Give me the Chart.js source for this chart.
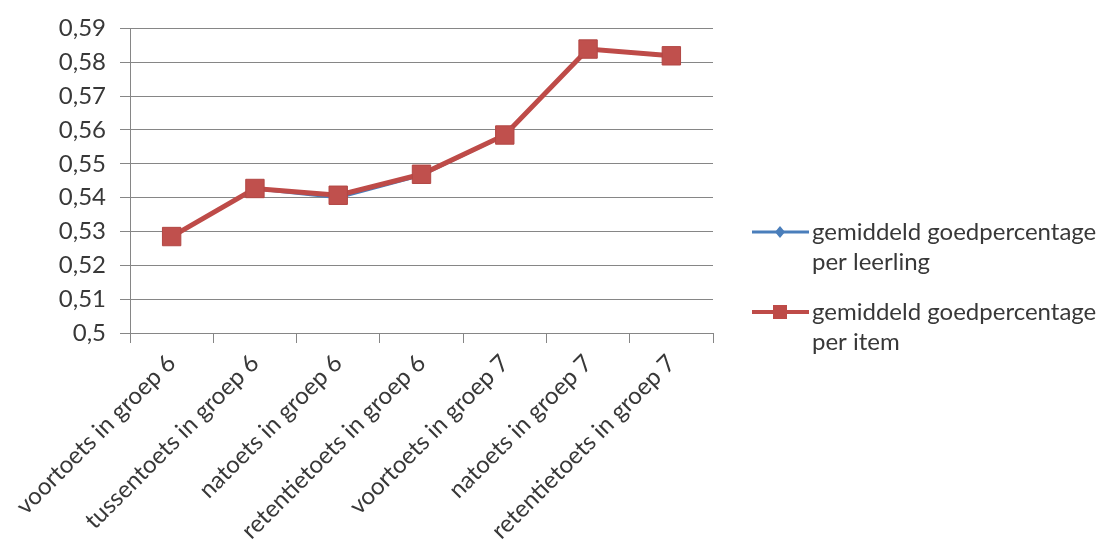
<!DOCTYPE html>
<html><head><meta charset="utf-8">
<script src="https://cdn.jsdelivr.net/npm/chart.js@4/dist/chart.umd.min.js"></script>
<style>html,body{margin:0;padding:0;background:#fff}#wrap{width:1112px;height:550px;position:relative}</style>
</head><body><div id="wrap"><canvas id="c" width="1112" height="550"></canvas></div>
<script>
const categories = ['voortoets in groep 6','tussentoets in groep 6','natoets in groep 6','retentietoets in groep 6','voortoets in groep 7','natoets in groep 7','retentietoets in groep 7'];
const perLeerling = [0.5285, 0.5426, 0.5400, 0.5466, 0.5584, 0.5839, 0.5818];
const perItem = [0.5285, 0.5427, 0.5407, 0.5469, 0.5585, 0.5839, 0.5819];
const seriesNames = [['gemiddeld goedpercentage','per leerling'],['gemiddeld goedpercentage','per item']];
const yMin = 0.5, yMax = 0.59, yStep = 0.01;

const FONT = 'Lato';
const FS = 24;
const TXT = '#383838';
const BLUE = '#4A7EBB', RED = '#BE4B48';

const legendPlugin = {
  id: 'customLegend',
  afterDraw(chart) {
    const ctx = chart.ctx;
    ctx.save();
    const items = [
      {color: BLUE, names: seriesNames[0], y: 232, style: 'diamond'},
      {color: RED, names: seriesNames[1], y: 312, style: 'square'}
    ];
    items.forEach(it => {
      ctx.strokeStyle = it.color; ctx.lineWidth = it.style === 'square' ? 4 : 3;
      ctx.beginPath(); ctx.moveTo(752, it.y); ctx.lineTo(809, it.y); ctx.stroke();
      ctx.fillStyle = it.color;
      if (it.style === 'square') { ctx.fillRect(773, it.y - 7, 14, 14); }
      else { ctx.beginPath(); ctx.moveTo(780, it.y - 6); ctx.lineTo(785, it.y); ctx.lineTo(780, it.y + 6); ctx.lineTo(775, it.y); ctx.closePath(); ctx.fill(); }
      ctx.fillStyle = TXT; ctx.font = FS + 'px ' + FONT; ctx.textBaseline = 'middle'; ctx.textAlign = 'left';
      it.names.forEach((t, i) => ctx.fillText(t, 812, it.y + i * 30));
    });
    ctx.restore();
  }
};

new Chart(document.getElementById('c'), {
  type: 'line',
  data: {
    labels: categories,
    datasets: [
      {label: seriesNames[0].join(' '), data: perLeerling, borderColor: BLUE, backgroundColor: BLUE, borderWidth: 3, pointStyle: 'rectRot', pointRadius: 5, pointBorderWidth: 0, order: 1},
      {label: seriesNames[1].join(' '), data: perItem, borderColor: RED, backgroundColor: '#C0504D', borderWidth: 5, pointStyle: 'rect', pointRadius: 13, pointBorderColor: '#B24744', pointBorderWidth: 1, order: 0}
    ]
  },
  options: {
    responsive: false, animation: false, devicePixelRatio: 1,
    layout: {padding: {left: 0, top: 26, right: 399, bottom: 0}},
    plugins: {legend: {display: false}, tooltip: {enabled: false}},
    scales: {
      x: {
        offset: true,
        grid: {offset: true, drawOnChartArea: false, drawTicks: true, tickLength: 10, color: '#868686'},
        border: {color: '#868686', width: 1},
        ticks: {color: TXT, font: {family: FONT, size: FS}, minRotation: 45, maxRotation: 45, padding: 6, autoSkip: false},
        afterFit: s => { s.height = 217; }
      },
      y: {
        min: yMin, max: yMax,
        grid: {color: '#868686', tickLength: 10, drawTicks: true},
        border: {color: '#868686', width: 1},
        ticks: {stepSize: yStep, color: TXT, font: {family: FONT, size: FS}, padding: 14,
          callback: v => String(+v.toFixed(2)).replace('.', ',')},
        afterFit: s => { s.width = 130; }
      }
    }
  },
  plugins: [legendPlugin]
});
</script></body></html>
